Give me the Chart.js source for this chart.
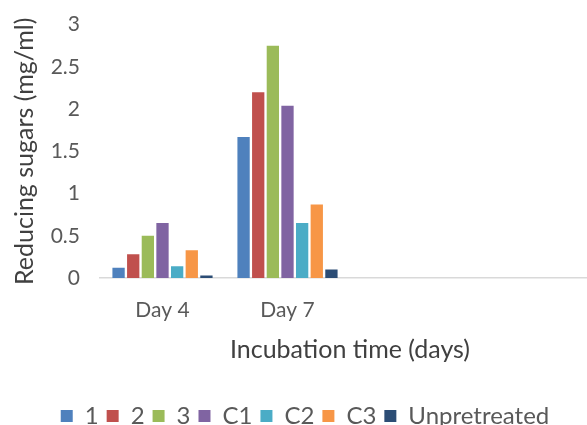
<!DOCTYPE html>
<html>
<head>
<meta charset="utf-8">
<script src="https://cdn.jsdelivr.net/npm/chart.js@4/dist/chart.umd.min.js"></script>
<style>
  html, body { margin: 0; padding: 0; background: #fff; overflow: hidden; }
  #wrap { width: 600px; height: 425px; }
</style>
</head>
<body>
<div id="wrap"><canvas id="chart"></canvas></div>
<script>
// Categories (the chart keeps two empty slots after Day 7)
const days = ['Day 4', 'Day 7', '', ''];

// Reducing sugars (mg/ml) per treatment
const t1 = [0.12, 1.67, null, null];
const t2 = [0.28, 2.20, null, null];
const t3 = [0.50, 2.75, null, null];
const c1 = [0.65, 2.04, null, null];
const c2 = [0.14, 0.65, null, null];
const c3 = [0.33, 0.87, null, null];
const unpretreated = [0.03, 0.10, null, null];

const seriesNames = ['1', '2', '3', 'C1', 'C2', 'C3', 'Unpretreated'];
const seriesColors = ['#4F81BD', '#C0504D', '#9BBB59', '#8064A2', '#4BACC6', '#F79646', '#2C4D75'];
const seriesData = [t1, t2, t3, c1, c2, c3, unpretreated];

const yTicks = [0, 0.5, 1, 1.5, 2, 2.5, 3];

const font = 'Lato, "Open Sans", sans-serif';
const grey = '#595959';

const datasets = seriesNames.map((name, i) => ({
    label: name,
    data: seriesData[i],
    backgroundColor: seriesColors[i],
    borderWidth: 0,
    categoryPercentage: 0.82,
    barPercentage: 0.84
}));

new Chart(document.getElementById('chart'), {
    type: 'bar',
    data: { labels: days, datasets: datasets },
    options: {
        responsive: true,
        maintainAspectRatio: false,
        animation: false,
        layout: { padding: { top: 5, right: 0, left: 10, bottom: -13 } },
        plugins: {
            tooltip: { enabled: false },
            legend: {
                position: 'bottom',
                labels: {
                    font: { family: font, size: 24 },
                    color: grey,
                    boxWidth: 12,
                    boxHeight: 12,
                    padding: 8
                }
            }
        },
        scales: {
            x: {
                afterFit: (scale) => { scale.height = 118; },
                grid: { display: false },
                border: { display: true, color: '#D9D9D9', width: 1.5 },
                ticks: {
                    font: { family: font, size: 21 },
                    color: grey,
                    padding: 12,
                    maxRotation: 0
                },
                title: {
                    display: true,
                    text: 'Incubation time (days)',
                    font: { family: font, size: 25 },
                    color: '#404040',
                    padding: { top: 0, bottom: 31 }
                }
            },
            y: {
                min: 0,
                max: 3,
                afterFit: (scale) => { scale.width = 90; },
                afterBuildTicks: (scale) => {
                    scale.ticks = yTicks.map(v => ({ value: v }));
                },
                grid: { display: false },
                border: { display: false },
                ticks: {
                    font: { family: font, size: 21 },
                    color: grey,
                    padding: 12,
                    callback: (v) => String(v)
                },
                title: {
                    display: true,
                    text: 'Reducing sugars (mg/ml)',
                    font: { family: font, size: 25 },
                    color: '#404040',
                    padding: { top: 0, bottom: 0 }
                }
            }
        }
    }
});
</script>
</body>
</html>
